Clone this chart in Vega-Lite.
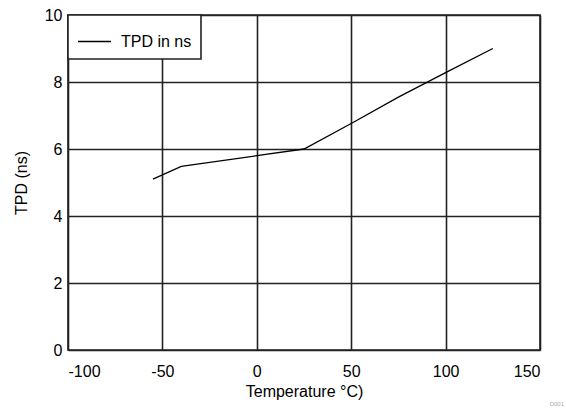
{
  "$schema": "https://vega.github.io/schema/vega-lite/v6.json",
  "width": 472,
  "height": 335,
  "autosize": {"type": "none"},
  "padding": {"left": 68, "top": 15, "right": 26, "bottom": 63},
  "background": "white",
  "title": {"text": "D001", "orient": "bottom", "anchor": "end", "fontSize": 6, "color": "#aaaaaa", "font": "Liberation Sans", "fontWeight": "normal", "offset": 2, "dx": 24},
  "data": {"values": [
    {"t": -55, "tpd": 5.1, "s": "TPD in ns"},
    {"t": -40, "tpd": 5.48, "s": "TPD in ns"},
    {"t": 0, "tpd": 5.8, "s": "TPD in ns"},
    {"t": 25, "tpd": 6.0, "s": "TPD in ns"},
    {"t": 50, "tpd": 6.76, "s": "TPD in ns"},
    {"t": 75, "tpd": 7.55, "s": "TPD in ns"},
    {"t": 100, "tpd": 8.28, "s": "TPD in ns"},
    {"t": 125, "tpd": 9.0, "s": "TPD in ns"}
  ]},
  "mark": {"type": "line", "strokeWidth": 1.3},
  "encoding": {
    "x": {"field": "t", "type": "quantitative", "scale": {"domain": [-100, 150], "nice": false}, "axis": {"values": [-100, -50, 0, 50, 100, 150], "title": "Temperature °C)", "labelExpr": "toString(datum.value)"}},
    "y": {"field": "tpd", "type": "quantitative", "scale": {"domain": [0, 10], "nice": false}, "axis": {"values": [0, 2, 4, 6, 8, 10], "title": "TPD (ns)"}},
    "color": {"field": "s", "type": "nominal", "scale": {"range": ["black"]}, "legend": {
      "title": null, "orient": "top-left", "offset": 0, "symbolType": "stroke", "symbolSize": 1089, "symbolStrokeWidth": 1.3,
      "labelFont": "Liberation Sans", "labelFontSize": 16, "labelColor": "black", "labelOffset": 9,
      "strokeColor": "#222222", "fillColor": "white", "padding": 9, "cornerRadius": 0}}
  },
  "config": {
    "view": {"stroke": "#222222", "strokeWidth": 1.6},
    "legend": {"strokeWidth": 1.6},
    "axis": {
      "grid": true, "gridColor": "#222222", "gridWidth": 1.6, "gridOpacity": 1,
      "domain": false, "ticks": false,
      "labelFont": "Liberation Sans", "labelFontSize": 16, "labelColor": "black",
      "titleFont": "Liberation Sans", "titleFontSize": 16, "titleColor": "black", "titleFontWeight": "normal"
    },
    "axisX": {"labelPadding": 13, "titlePadding": 4},
    "axisY": {"labelPadding": 6, "titlePadding": 15}
  }
}
